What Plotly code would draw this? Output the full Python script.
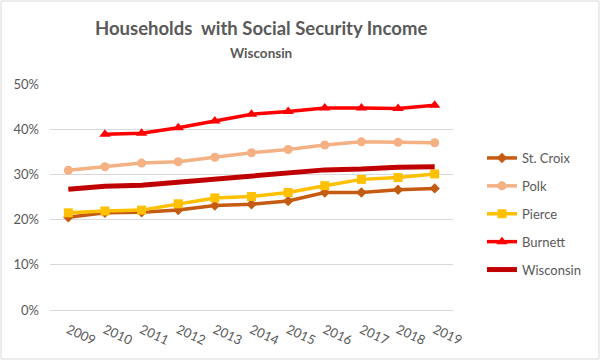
import plotly.graph_objects as go

years = ["2009", "2010", "2011", "2012", "2013", "2014", "2015", "2016", "2017", "2018", "2019"]
st_croix = [20.5, 21.5, 21.6, 22.1, 23.1, 23.4, 24.1, 26.0, 26.0, 26.6, 26.9]
polk = [30.9, 31.7, 32.5, 32.8, 33.8, 34.8, 35.5, 36.5, 37.2, 37.1, 37.0]
pierce = [21.5, 21.9, 22.1, 23.5, 24.8, 25.1, 26.0, 27.5, 28.9, 29.3, 30.1]
burnett = [None, 38.9, 39.1, 40.3, 41.8, 43.3, 43.9, 44.7, 44.7, 44.6, 45.3]
wisconsin = [26.7, 27.4, 27.6, 28.3, 29.0, 29.7, 30.3, 31.0, 31.2, 31.6, 31.7]

series = [
    ("St. Croix", st_croix, "#C55A11", "diamond", 8, 3.5),
    ("Polk", polk, "#F4B183", "circle", 9, 3.5),
    ("Pierce", pierce, "#FFC000", "square", 9, 3.5),
    ("Burnett", burnett, "#FF0000", "triangle-up", 10, 3.5),
    ("Wisconsin", wisconsin, "#C00000", None, 0, 5),
]

FONT = "Lato"
GREY = "#595959"

fig = go.Figure()
for i, (name, vals, color, sym, msize, lw) in enumerate(series):
    if sym:
        fig.add_trace(go.Scatter(
            x=years, y=vals, name=name, mode="lines+markers",
            line=dict(color=color, width=lw),
            marker=dict(symbol=sym, size=msize, color=color),
            legendgroup=str(i),
        ))
    else:
        fig.add_trace(go.Scatter(
            x=years, y=vals, name=name, mode="lines",
            line=dict(color=color, width=lw),
            legendgroup=str(i),
        ))

W, H = 601, 361
L, R, T, B = 50, 148, 84, 51
pw, ph = W - L - R, H - T - B

def px_x(x):
    return (x - L) / pw

def px_y(y):
    return (H - B - y) / ph

fig.add_shape(type="rect", xref="paper", yref="paper",
              x0=px_x(1), x1=px_x(W - 2),
              y0=px_y(H - 2), y1=px_y(1),
              line=dict(color="#D9D9D9", width=1), fillcolor="rgba(0,0,0,0)", layer="below")

fig.add_annotation(text="<b>Households  with Social Security Income</b>",
                   xref="paper", yref="paper", x=px_x(261), y=px_y(28),
                   xanchor="center", yanchor="middle", showarrow=False,
                   font=dict(family=FONT, size=18.5, color=GREY))
fig.add_annotation(text="<b>Wisconsin</b>",
                   xref="paper", yref="paper", x=px_x(261), y=px_y(53),
                   xanchor="center", yanchor="middle", showarrow=False,
                   font=dict(family=FONT, size=13.5, color=GREY))

fig.update_layout(
    width=W, height=H,
    margin=dict(l=L, r=R, t=T, b=B, autoexpand=False),
    paper_bgcolor="white", plot_bgcolor="white",
    font=dict(family=FONT, color=GREY, size=13),
    xaxis=dict(
        type="category", range=[-0.5, 10.5], tickangle=25,
        showgrid=False, showline=False, ticks="", automargin=False,
        ticklabelstandoff=9,
        tickfont=dict(size=13, color=GREY),
    ),
    yaxis=dict(
        range=[0, 50], dtick=10, ticksuffix="%", automargin=False,
        ticklabelstandoff=10,
        showgrid=True, gridcolor="#D9D9D9", gridwidth=1,
        zeroline=True, zerolinecolor="#D9D9D9", zerolinewidth=1,
        showline=False, ticks="", tickfont=dict(size=13, color=GREY),
    ),
    legend=dict(
        x=px_x(482), xanchor="left",
        y=px_y(143), yanchor="top",
        font=dict(size=13, color=GREY),
        tracegroupgap=8, bgcolor="rgba(0,0,0,0)",
    ),
    showlegend=True,
)

fig.write_html("out.html", config={"displayModeBar": False},
               post_script="document.body.style.margin='0';document.body.style.overflow='hidden';")
